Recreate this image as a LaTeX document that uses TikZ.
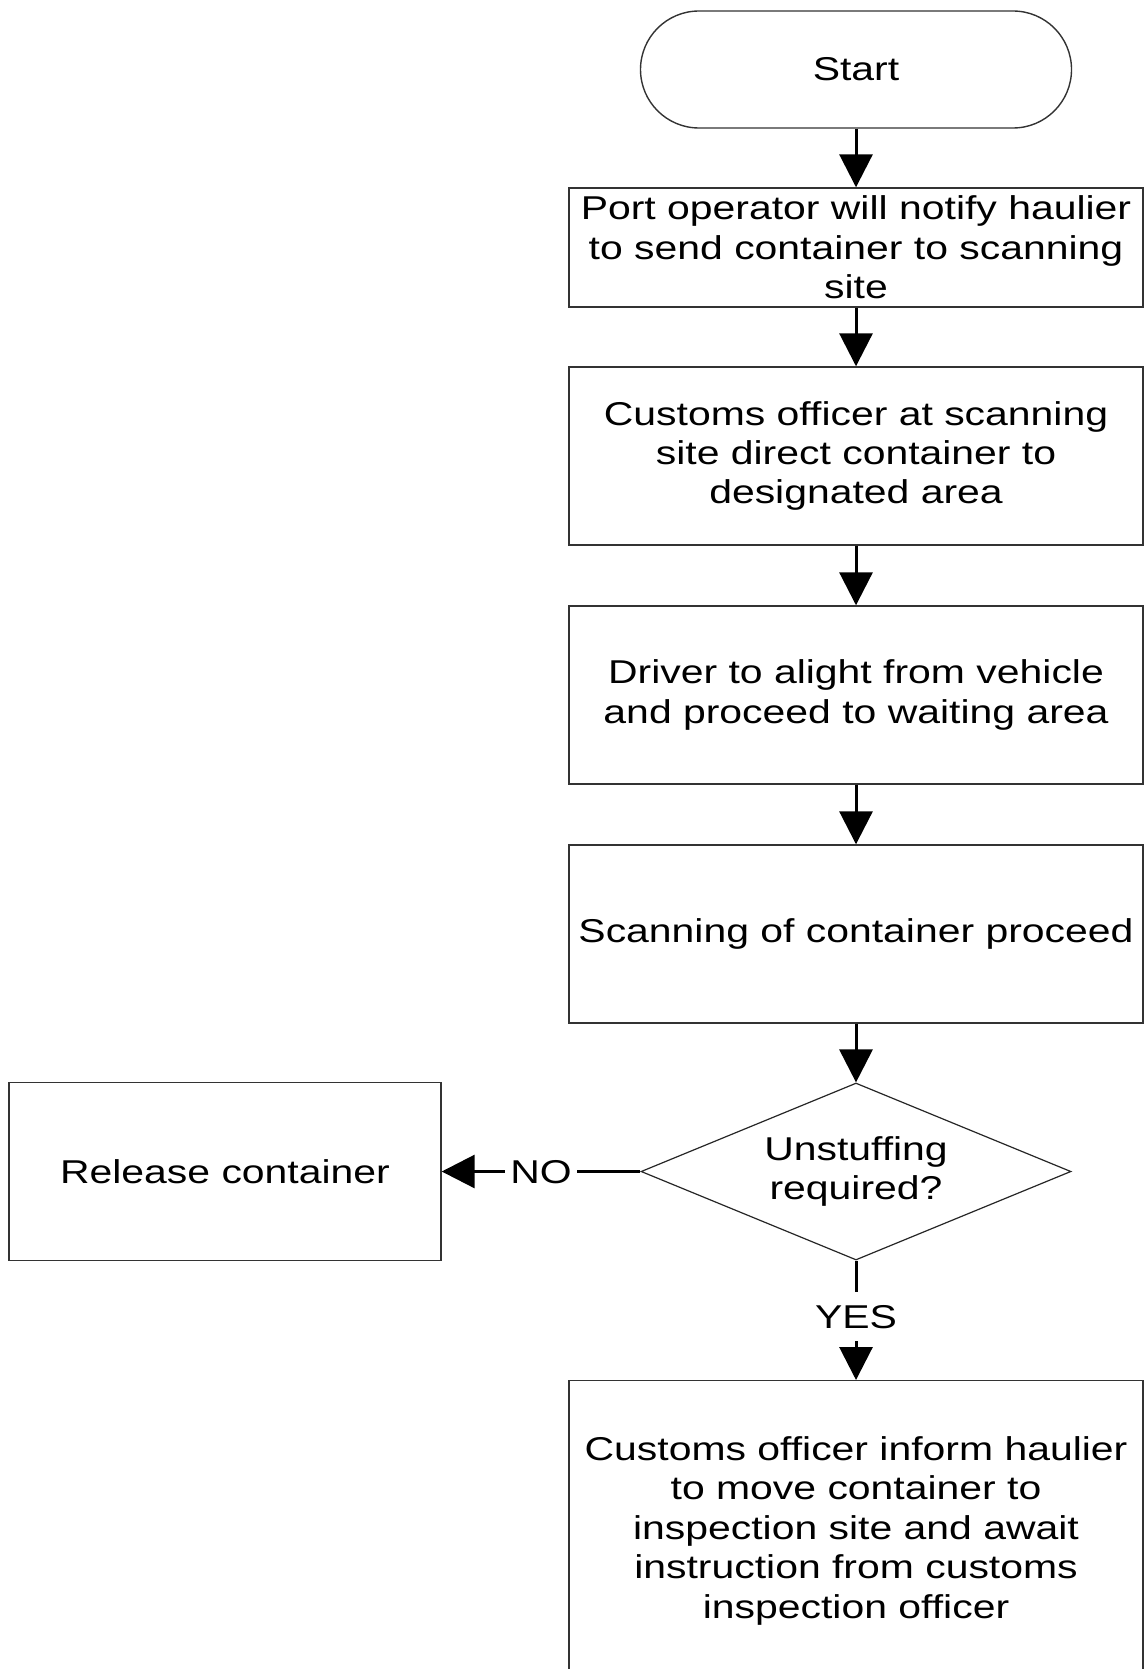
\documentclass[tikz,border=0pt]{standalone}
\usepackage{fontspec}
\setmainfont{Liberation Sans}[FakeStretch=1.24]
\usetikzlibrary{arrows.meta,shapes.geometric}
\begin{document}
\begin{tikzpicture}[x=0.5pt,y=-0.5pt,
  txt/.style={font=\fontsize{16.5}{19.7}\selectfont},
  box/.style={txt, draw=black!80, line width=0.7pt, rectangle, minimum width=287pt, align=center, inner sep=0pt},
  term/.style={box, minimum width=215.5pt, minimum height=58.5pt, rounded corners=29.25pt},
  dec/.style={txt, draw=black!85, line width=0.6pt, diamond, aspect=2.43, minimum width=215pt, minimum height=88.5pt, align=center, inner sep=0pt},
  arr/.style={line width=1.5pt, -{Triangle[length=16.5pt,width=16.5pt]}},
  lbl/.style={txt, fill=white, inner xsep=2.5pt, inner ysep=6.5pt, text height=11.8pt, text depth=0pt}
]
\useasboundingbox (0,0) rectangle (1144,1669);
\fill[white] (0,0) rectangle (1144,1669);

\node[term] (s) at (856,69.5) {Start};
\node[box, minimum height=59.5pt] (b1) at (856,247.5) {Port operator will notify haulier\\to send container to scanning\\site};
\node[box, minimum height=89pt] (b2) at (856,456) {Customs officer at scanning\\site direct container to\\designated area};
\node[box, minimum height=89pt] (b3) at (856,695) {Driver to alight from vehicle\\and proceed to waiting area};
\node[box, minimum height=89pt] (b4) at (856,934) {Scanning of container proceed};
\node[dec] (d) at (856,1171.5) {Unstuffing\\required?};
\node[box, minimum width=216pt, minimum height=89pt] (rel) at (225,1171.5) {Release container};
\node[box, minimum height=150pt, anchor=north] (b5) at (856,1380) {Customs officer inform haulier\\to move container to\\inspection site and await\\instruction from customs\\inspection officer};

\draw[arr] (s) -- (b1);
\draw[arr] (b1) -- (b2);
\draw[arr] (b2) -- (b3);
\draw[arr] (b3) -- (b4);
\draw[arr] (b4) -- (d);
\draw[arr] (d.west) -- node[lbl]{NO} (rel.east);
\draw[arr] (d.south) -- node[lbl, yshift=2pt]{YES} (b5.north);
\end{tikzpicture}
\end{document}
